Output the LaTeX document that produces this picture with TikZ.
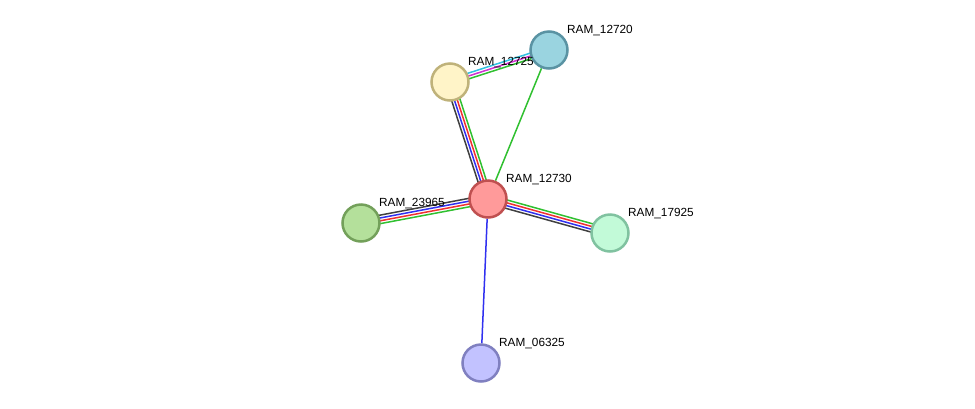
\documentclass[tikz,border=0pt]{standalone}
\usepackage{fontspec}
\setmainfont{Liberation Sans}
\usetikzlibrary{calc,backgrounds}
\definecolor{redfill}{HTML}{FF9A9A}\definecolor{reddraw}{HTML}{C05050}
\definecolor{yelfill}{HTML}{FFF4C8}\definecolor{yeldraw}{HTML}{BFB27A}
\definecolor{cyafill}{HTML}{9AD4E0}\definecolor{cyadraw}{HTML}{5A93A3}
\definecolor{grnfill}{HTML}{B4E09B}\definecolor{grndraw}{HTML}{73A05A}
\definecolor{mntfill}{HTML}{C2FAD8}\definecolor{mntdraw}{HTML}{80C2A0}
\definecolor{lavfill}{HTML}{C2C2FF}\definecolor{lavdraw}{HTML}{8080C0}
\definecolor{lkgray}{HTML}{404040}\definecolor{lkblue}{HTML}{3030F0}
\definecolor{lkred}{HTML}{F03030}\definecolor{lkgreen}{HTML}{30C030}
\definecolor{lkcyan}{HTML}{30C0E0}\definecolor{lkmag}{HTML}{D030D0}

\begin{document}
\begin{tikzpicture}[x=1pt,y=-1pt,font=\fontsize{11.8}{13}\selectfont,
 prot/.style={circle,line width=2.5pt,minimum size=37pt,inner sep=0pt},
 plabel/.style={anchor=base west,inner sep=0pt},
 link/.style={line width=1.5pt}]
\useasboundingbox (0,0) rectangle (975,408);
\node[prot,fill=redfill,draw=reddraw] (r12730) at (488,199) {};
\node[prot,fill=yelfill,draw=yeldraw] (r12725) at (450,82) {};
\node[prot,fill=cyafill,draw=cyadraw] (r12720) at (549,50) {};
\node[prot,fill=grnfill,draw=grndraw] (r23965) at (361,223) {};
\node[prot,fill=mntfill,draw=mntdraw] (r17925) at (610,233) {};
\node[prot,fill=lavfill,draw=lavdraw] (r06325) at (481,363) {};
\node[plabel] (l12730) at ($(r12730)+(18,-17)$) {RAM\_12730};
\node[plabel] (l12725) at ($(r12725)+(18,-17)$) {RAM\_12725};
\node[plabel] (l12720) at ($(r12720)+(18,-17)$) {RAM\_12720};
\node[plabel] (l23965) at ($(r23965)+(18,-17)$) {RAM\_23965};
\node[plabel] (l17925) at ($(r17925)+(18,-17)$) {RAM\_17925};
\node[plabel] (l06325) at ($(r06325)+(18,-17)$) {RAM\_06325};
\begin{scope}[on background layer]
\foreach \c [count=\i] in {lkgray,lkblue,lkred,lkgreen}{
 \draw[link,\c] ($(r12725)!{(\i-2.5)*2.8pt}!90:(r12730)$) -- ($(r12730)!{(\i-2.5)*2.8pt}!-90:(r12725)$);
 \draw[link,\c] ($(r12730)!{(\i-2.5)*2.8pt}!90:(r23965)$) -- ($(r23965)!{(\i-2.5)*2.8pt}!-90:(r12730)$);
 \draw[link,\c] ($(r12730)!{(\i-2.5)*2.8pt}!90:(r17925)$) -- ($(r17925)!{(\i-2.5)*2.8pt}!-90:(r12730)$);
}
\foreach \c [count=\i] in {lkcyan,lkmag,lkgreen}
 \draw[link,\c] ($(r12720)!{(\i-2)*2.8pt}!90:(r12725)$) -- ($(r12725)!{(\i-2)*2.8pt}!-90:(r12720)$);
\draw[link,lkgreen] (r12720) -- (r12730);
\draw[link,lkblue] (r12730) -- (r06325);
\end{scope}
\end{tikzpicture}
\end{document}
